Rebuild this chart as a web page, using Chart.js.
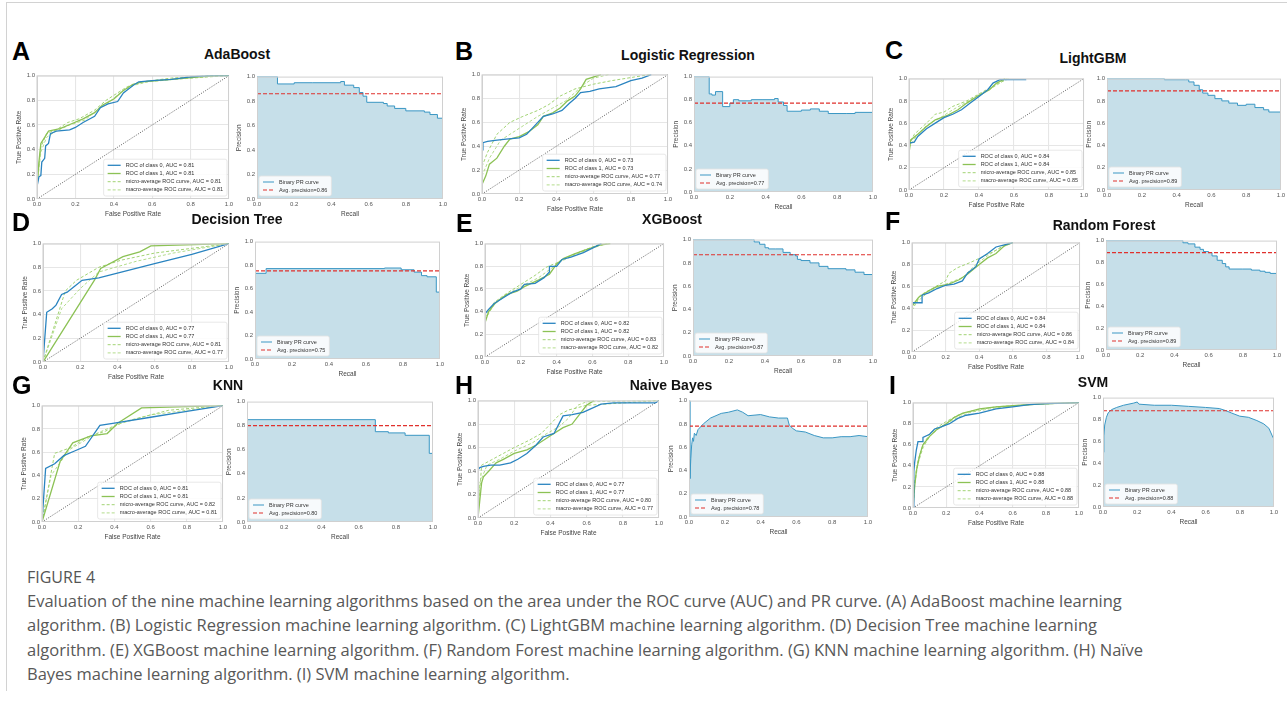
<!DOCTYPE html>
<html>
<head>
<meta charset="utf-8">
<script src="https://cdn.jsdelivr.net/npm/chart.js@4.4.1/dist/chart.umd.min.js"></script>
<style>
    body { margin: 0; background: #fff; }
    #fig { position: relative; width: 1287px; height: 702px; overflow: hidden; font-family: "Liberation Sans", Arial, sans-serif; }
    #box { position: absolute; left: 6px; top: 2px; width: 1281px; height: 688px; border-left: 1px solid #d2d2d2; border-top: 1px solid #d2d2d2; }
    canvas { position: absolute; }
    .letter { position: absolute; font-weight: bold; font-size: 25px; line-height: 1; color: #000; transform: translateY(-50%); }
    .title { position: absolute; font-weight: bold; font-size: 14px; line-height: 1; color: #111; transform: translate(-50%, -50%); white-space: nowrap; }
    .fignum { position: absolute; left: 27px; top: 566px; font-family: "Open Sans", sans-serif; font-size: 16px; color: #555; }
    .caption { position: absolute; left: 27px; top: 589px; font-family: "Open Sans", sans-serif; font-size: 16.5px; line-height: 24.3px; color: #585858; white-space: nowrap; }
</style>
</head>
<body>
<div id="fig">
    <div id="box"></div>
    <div class="fignum">FIGURE 4</div>
    <div class="caption">Evaluation of the nine machine learning algorithms based on the area under the ROC curve (AUC) and PR curve. (A) AdaBoost machine learning<br>algorithm. (B) Logistic Regression machine learning algorithm. (C) LightGBM machine learning algorithm. (D) Decision Tree machine learning<br>algorithm. (E) XGBoost machine learning algorithm. (F) Random Forest machine learning algorithm. (G) KNN machine learning algorithm. (H) Naïve<br>Bayes machine learning algorithm. (I) SVM machine learning algorithm.</div>
</div>
<script>
// panel labels
const letters = ['A', 'B', 'C', 'D', 'E', 'F', 'G', 'H', 'I'];
const models = ['AdaBoost', 'Logistic Regression', 'LightGBM', 'Decision Tree', 'XGBoost', 'Random Forest', 'KNN', 'Naive Bayes', 'SVM'];

// AUC values from the legends
const aucClass0 = [0.81, 0.73, 0.84, 0.77, 0.82, 0.84, 0.81, 0.77, 0.88];
const aucClass1 = [0.81, 0.73, 0.84, 0.77, 0.82, 0.84, 0.81, 0.77, 0.88];
const aucMicro = [0.81, 0.77, 0.85, 0.81, 0.83, 0.86, 0.82, 0.80, 0.88];
const aucMacro = [0.81, 0.74, 0.85, 0.77, 0.82, 0.84, 0.81, 0.77, 0.88];
const avgPrecision = [0.86, 0.77, 0.89, 0.75, 0.87, 0.89, 0.80, 0.78, 0.88];

const axisTicks = [0, 0.2, 0.4, 0.6, 0.8, 1.0];
const chance = [[0, 0], [1, 1]];

// ROC curves [fpr, tpr]
const adaRoc0 = [[0,0],[0,0.1],[0.01,0.18],[0.02,0.19],[0.025,0.3],[0.04,0.33],[0.045,0.43],[0.06,0.45],[0.07,0.53],[0.1,0.55],[0.17,0.56],[0.2,0.58],[0.24,0.62],[0.3,0.67],[0.33,0.74],[0.37,0.77],[0.42,0.79],[0.45,0.86],[0.5,0.92],[0.53,0.95],[0.6,0.96],[0.7,0.97],[0.8,0.99],[0.9,1],[1,1]];
const adaRoc1 = [[0,0.1],[0.01,0.3],[0.02,0.45],[0.04,0.5],[0.06,0.55],[0.12,0.57],[0.18,0.61],[0.24,0.65],[0.3,0.7],[0.34,0.76],[0.4,0.81],[0.45,0.88],[0.5,0.93],[0.55,0.95],[0.7,0.97],[0.85,0.99],[0.95,1],[1,1]];
const adaMicro = [[0,0.12],[0.02,0.42],[0.05,0.53],[0.1,0.56],[0.16,0.62],[0.22,0.65],[0.3,0.72],[0.36,0.8],[0.42,0.86],[0.47,0.91],[0.55,0.95],[0.7,0.98],[0.9,1],[1,1]];
const adaMacro = [[0,0.1],[0.02,0.38],[0.05,0.5],[0.1,0.55],[0.17,0.6],[0.25,0.64],[0.32,0.73],[0.38,0.79],[0.44,0.87],[0.5,0.92],[0.58,0.95],[0.72,0.97],[0.9,0.99],[1,1]];

const lrRoc0 = [[0,0.37],[0.005,0.43],[0.03,0.44],[0.07,0.45],[0.13,0.46],[0.2,0.47],[0.24,0.5],[0.27,0.55],[0.3,0.6],[0.33,0.65],[0.38,0.67],[0.43,0.7],[0.47,0.76],[0.5,0.8],[0.53,0.85],[0.58,0.86],[0.63,0.88],[0.72,0.9],[0.8,0.95],[0.86,0.97],[0.91,1]];
const lrRoc1 = [[0,0.08],[0.02,0.15],[0.04,0.25],[0.08,0.3],[0.12,0.4],[0.15,0.46],[0.2,0.48],[0.25,0.52],[0.3,0.58],[0.33,0.65],[0.38,0.68],[0.42,0.72],[0.46,0.78],[0.5,0.82],[0.53,0.88],[0.56,0.96],[0.64,1]];
const lrMicro = [[0,0.23],[0.03,0.35],[0.08,0.5],[0.15,0.6],[0.22,0.65],[0.3,0.7],[0.36,0.75],[0.42,0.82],[0.5,0.88],[0.6,0.92],[0.7,0.95],[0.82,0.98],[0.9,1]];
const lrMacro = [[0,0.15],[0.04,0.3],[0.1,0.45],[0.2,0.55],[0.3,0.65],[0.38,0.72],[0.45,0.78],[0.5,0.85],[0.55,0.92],[0.6,0.97],[0.68,1]];

const lgbRoc0 = [[0,0.42],[0.03,0.43],[0.05,0.48],[0.1,0.55],[0.15,0.6],[0.2,0.65],[0.25,0.68],[0.3,0.72],[0.35,0.78],[0.4,0.84],[0.45,0.9],[0.48,0.96],[0.52,0.99],[0.67,0.99]];
const lgbRoc1 = [[0,0.33],[0.01,0.45],[0.05,0.5],[0.1,0.57],[0.15,0.63],[0.22,0.67],[0.28,0.72],[0.33,0.78],[0.4,0.85],[0.46,0.9],[0.5,0.96],[0.55,1]];
const lgbMicro = [[0,0.4],[0.03,0.5],[0.1,0.6],[0.15,0.68],[0.2,0.7],[0.25,0.75],[0.33,0.8],[0.42,0.88],[0.5,0.95],[0.57,1]];
const lgbMacro = [[0,0.38],[0.04,0.48],[0.1,0.58],[0.18,0.65],[0.25,0.72],[0.33,0.79],[0.42,0.87],[0.5,0.94],[0.56,1]];

const dtRoc0 = [[0,0],[0.02,0.42],[0.05,0.45],[0.07,0.48],[0.1,0.57],[0.13,0.59],[0.17,0.64],[0.21,0.69],[0.3,0.71],[0.4,0.75],[0.6,0.83],[0.8,0.91],[1,1]];
const dtRoc1 = [[0,0],[0.28,0.7],[0.31,0.79],[0.43,0.89],[0.52,0.93],[0.58,0.98],[1,1]];
const dtMicro = [[0,0],[0.12,0.6],[0.18,0.69],[0.3,0.8],[0.42,0.86],[0.6,0.92],[1,1]];
const dtMacro = [[0,0],[0.1,0.45],[0.2,0.62],[0.3,0.76],[0.5,0.85],[0.7,0.92],[1,1]];

const xgbRoc0 = [[0,0.38],[0.02,0.42],[0.05,0.47],[0.1,0.52],[0.15,0.57],[0.2,0.6],[0.22,0.64],[0.28,0.65],[0.33,0.7],[0.36,0.75],[0.36,0.8],[0.4,0.8],[0.43,0.86],[0.48,0.88],[0.55,0.92],[0.6,0.96],[0.65,1]];
const xgbRoc1 = [[0,0.3],[0.02,0.4],[0.06,0.48],[0.12,0.55],[0.18,0.58],[0.22,0.62],[0.3,0.68],[0.36,0.73],[0.4,0.82],[0.44,0.87],[0.5,0.91],[0.57,0.95],[0.65,0.99],[0.7,1]];
const xgbMicro = [[0,0.35],[0.05,0.48],[0.12,0.56],[0.2,0.64],[0.28,0.72],[0.34,0.79],[0.4,0.83],[0.46,0.88],[0.55,0.94],[0.65,1]];
const xgbMacro = [[0,0.33],[0.05,0.46],[0.12,0.55],[0.2,0.62],[0.3,0.7],[0.36,0.77],[0.42,0.84],[0.5,0.9],[0.6,0.96],[0.68,1]];

const rfRoc0 = [[0,0.45],[0.06,0.45],[0.06,0.52],[0.1,0.54],[0.15,0.58],[0.2,0.61],[0.25,0.62],[0.3,0.65],[0.33,0.72],[0.38,0.78],[0.4,0.85],[0.45,0.9],[0.5,0.96],[0.55,0.98],[0.6,1]];
const rfRoc1 = [[0,0.42],[0.04,0.5],[0.1,0.56],[0.15,0.6],[0.22,0.62],[0.28,0.66],[0.33,0.71],[0.4,0.8],[0.45,0.86],[0.5,0.9],[0.55,0.97],[0.6,1]];
const rfMicro = [[0,0.38],[0.05,0.52],[0.12,0.58],[0.2,0.65],[0.22,0.72],[0.27,0.77],[0.35,0.82],[0.42,0.87],[0.5,0.93],[0.58,1]];
const rfMacro = [[0,0.42],[0.1,0.55],[0.2,0.62],[0.3,0.68],[0.38,0.8],[0.45,0.88],[0.52,0.95],[0.6,1]];

const knnRoc0 = [[0,0],[0.02,0.46],[0.07,0.5],[0.12,0.57],[0.18,0.61],[0.24,0.65],[0.32,0.83],[0.4,0.85],[0.6,0.9],[0.8,0.95],[1,1]];
const knnRoc1 = [[0,0],[0.1,0.52],[0.17,0.68],[0.27,0.74],[0.36,0.76],[0.42,0.85],[0.55,0.98],[1,1]];
const knnMicro = [[0,0],[0.07,0.59],[0.16,0.64],[0.25,0.73],[0.35,0.78],[0.45,0.86],[0.55,0.9],[0.7,0.96],[1,1]];
const knnMacro = [[0,0],[0.05,0.4],[0.15,0.62],[0.3,0.76],[0.42,0.84],[0.6,0.92],[1,1]];

const nbRoc0 = [[0,0.41],[0.01,0.43],[0.03,0.44],[0.07,0.45],[0.12,0.45],[0.18,0.47],[0.22,0.5],[0.27,0.55],[0.32,0.62],[0.36,0.69],[0.42,0.72],[0.45,0.81],[0.47,0.87],[0.52,0.88],[0.58,0.9],[0.68,0.97],[0.75,0.98],[0.98,0.98],[1,1]];
const nbRoc1 = [[0,0],[0.02,0.3],[0.03,0.35],[0.06,0.4],[0.1,0.47],[0.14,0.5],[0.2,0.55],[0.27,0.58],[0.32,0.62],[0.4,0.7],[0.47,0.77],[0.52,0.8],[0.56,0.88],[0.6,0.96],[0.64,1]];
const nbMicro = [[0,0.02],[0.02,0.45],[0.08,0.5],[0.14,0.55],[0.2,0.6],[0.28,0.66],[0.35,0.72],[0.4,0.8],[0.45,0.88],[0.5,0.92],[0.55,0.94],[0.6,0.96],[0.7,0.97],[0.8,0.98],[1,1]];
const nbMacro = [[0,0],[0.01,0.3],[0.05,0.45],[0.12,0.5],[0.2,0.57],[0.3,0.64],[0.37,0.71],[0.45,0.78],[0.5,0.85],[0.55,0.96],[0.6,0.99],[1,1]];

const svmRoc0 = [[0,0],[0.005,0.35],[0.01,0.43],[0.02,0.55],[0.03,0.63],[0.06,0.63],[0.06,0.67],[0.1,0.7],[0.13,0.75],[0.17,0.77],[0.22,0.8],[0.27,0.85],[0.32,0.88],[0.4,0.9],[0.5,0.94],[0.6,0.96],[0.7,0.98],[0.8,0.99],[1,1]];
const svmRoc1 = [[0,0],[0.01,0.2],[0.02,0.35],[0.04,0.5],[0.06,0.6],[0.1,0.68],[0.14,0.74],[0.2,0.8],[0.25,0.86],[0.3,0.9],[0.35,0.92],[0.4,0.94],[0.5,0.96],[0.6,0.97],[0.8,0.99],[1,1]];
const svmMicro = [[0,0],[0.01,0.25],[0.03,0.45],[0.06,0.6],[0.1,0.7],[0.15,0.77],[0.2,0.82],[0.27,0.88],[0.35,0.92],[0.5,0.96],[0.7,0.98],[1,1]];
const svmMacro = [[0,0],[0.01,0.22],[0.03,0.42],[0.06,0.57],[0.1,0.68],[0.15,0.75],[0.2,0.8],[0.27,0.86],[0.35,0.91],[0.5,0.95],[0.7,0.98],[1,1]];

// PR curves [recall, precision]
const adaPr = [[0,1],[0.11,0.94],[0.2,0.95],[0.3,0.95],[0.45,0.96],[0.47,0.93],[0.52,0.91],[0.55,0.87],[0.57,0.84],[0.59,0.79],[0.68,0.78],[0.7,0.76],[0.74,0.74],[0.8,0.72],[0.9,0.71],[0.93,0.69],[0.97,0.66],[1,0.6]];
const lrPr = [[0,1],[0.085,0.85],[0.1,0.84],[0.12,0.87],[0.16,0.74],[0.2,0.77],[0.22,0.8],[0.25,0.79],[0.32,0.8],[0.38,0.8],[0.45,0.81],[0.47,0.78],[0.5,0.75],[0.52,0.7],[0.6,0.71],[0.65,0.72],[0.7,0.7],[0.75,0.68],[0.85,0.68],[0.9,0.69],[1,0.7]];
const lgbPr = [[0,1],[0.33,0.99],[0.45,0.99],[0.47,0.97],[0.5,0.94],[0.53,0.9],[0.55,0.87],[0.58,0.85],[0.62,0.82],[0.66,0.8],[0.7,0.78],[0.75,0.76],[0.8,0.77],[0.85,0.74],[0.9,0.72],[0.93,0.7],[1,0.7]];
const dtPr = [[0,0.73],[0.06,0.77],[0.7,0.775],[0.79,0.76],[0.86,0.74],[0.9,0.71],[0.93,0.7],[0.98,0.57],[1,0.57]];
const xgbPr = [[0,1],[0.33,1],[0.34,0.98],[0.37,0.96],[0.4,0.93],[0.42,0.92],[0.46,0.92],[0.5,0.89],[0.54,0.87],[0.57,0.86],[0.58,0.83],[0.6,0.82],[0.65,0.8],[0.7,0.77],[0.75,0.75],[0.8,0.75],[0.85,0.74],[0.9,0.72],[0.95,0.7],[1,0.69]];
const rfPr = [[0,1],[0.45,0.98],[0.48,0.97],[0.52,0.94],[0.55,0.92],[0.57,0.9],[0.6,0.89],[0.62,0.86],[0.65,0.82],[0.68,0.79],[0.7,0.76],[0.72,0.74],[0.8,0.74],[0.85,0.73],[0.9,0.72],[0.93,0.71],[0.96,0.7],[1,0.71]];
const knnPr = [[0,0.85],[0.69,0.75],[0.76,0.74],[0.85,0.72],[0.98,0.57],[1,0.57]];
const nbPr = [[0,1],[0.005,0.33],[0.01,0.5],[0.015,0.62],[0.02,0.68],[0.025,0.65],[0.03,0.72],[0.04,0.7],[0.05,0.75],[0.08,0.8],[0.12,0.85],[0.18,0.89],[0.22,0.9],[0.27,0.92],[0.3,0.9],[0.33,0.87],[0.4,0.88],[0.45,0.86],[0.5,0.85],[0.55,0.85],[0.56,0.79],[0.58,0.76],[0.6,0.74],[0.65,0.73],[0.7,0.7],[0.75,0.68],[0.8,0.68],[0.85,0.69],[0.9,0.69],[0.95,0.7],[1,0.69]];
const svmPr = [[0,0.5],[0.005,0.65],[0.01,0.75],[0.02,0.82],[0.03,0.86],[0.05,0.89],[0.08,0.91],[0.12,0.93],[0.18,0.95],[0.2,0.96],[0.21,0.94],[0.3,0.93],[0.4,0.93],[0.5,0.92],[0.6,0.91],[0.68,0.9],[0.72,0.88],[0.75,0.86],[0.8,0.83],[0.85,0.82],[0.9,0.79],[0.94,0.76],[0.97,0.72],[0.99,0.65],[1,0.62]];

const roc0 = [adaRoc0, lrRoc0, lgbRoc0, dtRoc0, xgbRoc0, rfRoc0, knnRoc0, nbRoc0, svmRoc0];
const roc1 = [adaRoc1, lrRoc1, lgbRoc1, dtRoc1, xgbRoc1, rfRoc1, knnRoc1, nbRoc1, svmRoc1];
const rocMicro = [adaMicro, lrMicro, lgbMicro, dtMicro, xgbMicro, rfMicro, knnMicro, nbMicro, svmMicro];
const rocMacro = [adaMacro, lrMacro, lgbMacro, dtMacro, xgbMacro, rfMacro, knnMacro, nbMacro, svmMacro];
const prCurves = [adaPr, lrPr, lgbPr, dtPr, xgbPr, rfPr, knnPr, nbPr, svmPr];
const prStepped = [true, true, true, true, true, true, true, false, false];

// layout: plot areas [left, top, right, bottom] in page pixels
const rocRects = [[37,74,229,199],[482,73,668,194],[909,77,1084,190],[43,242,229,362],[485,242,664,357],[912,241,1080,352],[42,404,223,522],[478,399,659,518],[913,401,1079,508]];
const prRects = [[257,75,443,199],[694,75,873,192],[1107,77,1281,190],[255,240,440,359],[693,238,873,356],[1106,239,1277,350],[247,400,433,522],[689,399,868,517],[1103,396,1274,507]];
const letterPos = [[12,51],[455,51],[885,50],[12,222],[456,223],[885,221],[12,385],[455,385],[889,385]];
const titlePos = [[237,54],[688,55],[1093,58],[237,219],[672,219],[1104,225],[228,385],[671,385],[1093,382]];

const pts = arr => arr.map(([x, y]) => ({ x, y }));

Chart.defaults.font.family = '"Liberation Sans", Arial, sans-serif';

// legend drawn inside the plot with a white box
const boxLegend = {
    id: 'boxLegend',
    afterDraw(chart, args, o) {
        if (!o || !o.corner) return;
        const ctx = chart.ctx, a = chart.chartArea;
        const items = chart.data.datasets.filter(d => d.label);
        ctx.save();
        ctx.font = o.size + 'px "Liberation Sans", Arial, sans-serif';
        const tw = Math.max(...items.map(d => ctx.measureText(d.label).width));
        const w = 4 + o.sample + 5 + tw + 4, h = items.length * o.row + 4;
        const x = o.corner === 'br' ? a.right - w - 2 : a.left + 2;
        const y = a.bottom - h - 3;
        ctx.fillStyle = 'rgba(255,255,255,0.85)';
        ctx.strokeStyle = '#e2e2e2';
        ctx.lineWidth = 0.8;
        ctx.beginPath();
        ctx.roundRect(x, y, w, h, 2);
        ctx.fill();
        ctx.stroke();
        items.forEach((d, i) => {
            const cy = y + 2 + o.row * (i + 0.5);
            ctx.strokeStyle = d.borderColor;
            ctx.lineWidth = d.borderWidth;
            ctx.setLineDash(d.borderDash || []);
            ctx.beginPath();
            ctx.moveTo(x + 4, cy);
            ctx.lineTo(x + 4 + o.sample, cy);
            ctx.stroke();
            ctx.setLineDash([]);
            ctx.fillStyle = '#333';
            ctx.textBaseline = 'middle';
            ctx.fillText(d.label, x + 4 + o.sample + 5, cy);
        });
        ctx.restore();
    }
};

const plotFrame = {
    id: 'plotFrame',
    afterDatasetsDraw(chart) {
        const a = chart.chartArea, ctx = chart.ctx;
        ctx.save();
        ctx.strokeStyle = '#d0d0d0';
        ctx.lineWidth = 1;
        ctx.strokeRect(a.left + 0.5, a.top + 0.5, a.width - 1, a.height - 1);
        ctx.restore();
    }
};
Chart.register(boxLegend, plotFrame);

const fig = document.getElementById('fig');
const padL = 24, padB = 20, padT = 4, padR = 8;

function makeCanvas(rect) {
    const [l, t, r, b] = rect;
    const c = document.createElement('canvas');
    c.width = r - l + padL + padR;
    c.height = b - t + padT + padB;
    c.style.left = (l - padL) + 'px';
    c.style.top = (t - padT) + 'px';
    fig.appendChild(c);
    return c;
}

function axis(title, isX, grid) {
    return {
        type: 'linear', min: 0, max: 1,
        afterBuildTicks: s => { s.ticks = axisTicks.map(v => ({ value: v })); },
        ticks: { callback: v => v.toFixed(1), font: { size: 6 }, color: '#555', padding: 2, maxRotation: 0, autoSkip: false },
        grid: { display: grid, color: '#e6e6e6', lineWidth: 1.1, drawTicks: false },
        border: { display: false },
        title: { display: true, text: title, font: { size: 6.5 }, color: '#444', padding: isX ? 1 : 2 },
        afterFit: s => { if (isX) s.height = padB; else s.width = padL; }
    };
}

function baseOptions(xTitle, yTitle, grid, legend) {
    return {
        responsive: false,
        animation: false,
        devicePixelRatio: 1,
        layout: { autoPadding: false, padding: { top: padT, right: padR, left: 0, bottom: 0 } },
        elements: { point: { radius: 0 } },
        scales: { x: axis(xTitle, true, grid), y: axis(yTitle, false, grid) },
        plugins: { legend: { display: false }, tooltip: { enabled: false }, boxLegend: legend }
    };
}

function title(cls, text, pos) {
    const d = document.createElement('div');
    d.className = cls;
    d.textContent = text;
    d.style.left = pos[0] + 'px';
    d.style.top = pos[1] + 'px';
    fig.appendChild(d);
}

models.forEach((name, i) => {
    title('letter', letters[i], letterPos[i]);
    title('title', name, titlePos[i]);

    new Chart(makeCanvas(rocRects[i]), {
        type: 'line',
        data: {
            datasets: [
                { label: 'ROC of class 0, AUC = ' + aucClass0[i].toFixed(2), data: pts(roc0[i]), borderColor: '#2a84c0', borderWidth: 1.3 },
                { label: 'ROC of class 1, AUC = ' + aucClass1[i].toFixed(2), data: pts(roc1[i]), borderColor: '#8cc255', borderWidth: 1.3 },
                { label: 'micro-average ROC curve, AUC = ' + aucMicro[i].toFixed(2), data: pts(rocMicro[i]), borderColor: '#a2d374', borderWidth: 1, borderDash: [3, 2] },
                { label: 'macro-average ROC curve, AUC = ' + aucMacro[i].toFixed(2), data: pts(rocMacro[i]), borderColor: '#b3dc8c', borderWidth: 1, borderDash: [3, 2] },
                { data: pts(chance), borderColor: '#333', borderWidth: 0.8, borderDash: [1, 1.5] }
            ]
        },
        options: baseOptions('False Positive Rate', 'True Positive Rate', true, { corner: 'br', size: 5.5, row: 8.2, sample: 13 })
    });

    new Chart(makeCanvas(prRects[i]), {
        type: 'line',
        data: {
            datasets: [
                { label: 'Binary PR curve', data: pts(prCurves[i]), borderColor: '#3a97c4', borderWidth: 1, stepped: prStepped[i], fill: 'origin', backgroundColor: '#c6dfe9', order: 1 },
                { label: 'Avg. precision=' + avgPrecision[i].toFixed(2), data: pts([[0, avgPrecision[i]], [1, avgPrecision[i]]]), borderColor: '#e0312d', borderWidth: 1.2, borderDash: [4, 2], order: 0 }
            ]
        },
        options: baseOptions('Recall', 'Precision', false, { corner: 'bl', size: 5.5, row: 8, sample: 11 })
    });
});
</script>
</body>
</html>
